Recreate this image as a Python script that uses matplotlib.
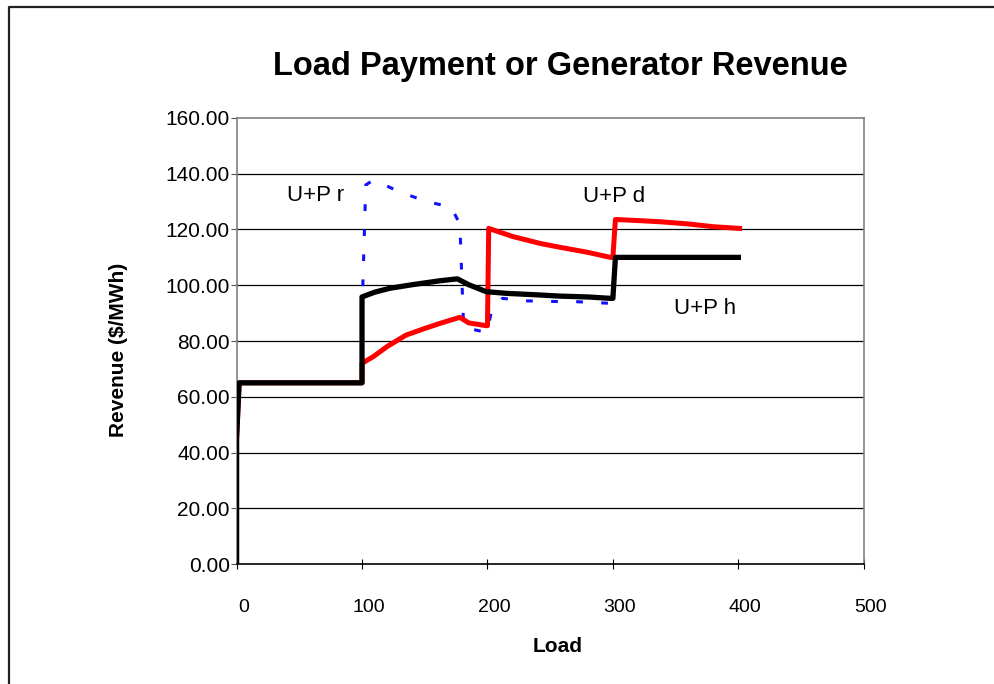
import numpy as np
import matplotlib
matplotlib.use("Agg")
import matplotlib.pyplot as plt
import matplotlib.transforms as mtransforms

plt.rcParams['font.family'] = ['Liberation Sans', 'DejaVu Sans']

# U+P h (black)
h_x = [0, 0, 2, 2, 100, 100, 110, 122, 140, 162, 176, 185, 199, 215, 242, 258, 280, 298, 300, 302, 400]
h_y = [0, 45, 65, 65, 65, 95.8, 97.5, 98.9, 100.2, 101.6, 102.3, 100.2, 97.7, 97.1, 96.5, 96.1, 95.8, 95.3, 95.3, 110, 110]

# U+P d (red)
d_x = [0, 0, 2, 100, 100, 109, 120, 135, 150, 162, 178, 185, 199, 200, 201, 220, 242, 258, 280, 298, 300, 302, 320, 337, 360, 380, 401]
d_y = [0, 45, 65, 65, 72, 74.4, 78, 82.1, 84.5, 86.3, 88.5, 86.5, 85.5, 85.5, 120.4, 117.5, 115, 113.6, 111.8, 110, 110, 123.6, 123.2, 122.8, 122, 121, 120.4]

# U+P r (blue dotted)
r_x = [0, 0, 2, 100, 100, 103, 109, 114, 130, 151, 171, 178, 181, 190, 197, 200, 203, 212, 231, 250, 271, 290, 298, 300, 302, 400]
r_y = [0, 38, 65, 65, 90, 136, 137.7, 136.8, 133.5, 130.1, 128, 122, 85, 84, 83.3, 83.3, 90.5, 95.3, 94.4, 94.2, 94.1, 93.7, 93.5, 100, 110, 110]

yticks = np.arange(0, 161, 20)
xticks = [0, 100, 200, 300, 400, 500]

fig = plt.figure(figsize=(9.94, 6.84), dpi=100)
ax = fig.add_axes([0.238, 0.1754, 0.631, 0.6521])

# outer chart frame (left and top edges visible)
fig.add_artist(plt.Line2D([9/994, 9/994, 1.0], [0.0, 1 - 7/684, 1 - 7/684],
                          transform=fig.transFigure, color='#222222', lw=1.6))

for y in yticks[1:-1]:
    ax.axhline(y, color='black', lw=0.9, zorder=1)

ax.plot(r_x, r_y, color='#1010ff', lw=2.2, linestyle=(0, (2.2, 6.0)), zorder=2)
ax.plot(d_x, d_y, color='#ff0000', lw=3.6, zorder=3, solid_joinstyle='round')
ax.plot(h_x, h_y, color='black', lw=3.8, zorder=4, solid_joinstyle='round')

ax.text(63, 132.1, 'U+P r', fontsize=16, ha='center', va='center')
ax.text(300.7, 131.8, 'U+P d', fontsize=16, ha='center', va='center')
ax.text(373.6, 91.7, 'U+P h', fontsize=16, ha='center', va='center')

ax.set_xlim(0, 500)
ax.set_ylim(0, 160)
ax.set_xticks(xticks)
ax.set_yticks(yticks)
ax.set_yticklabels(['%.2f' % v for v in yticks])
ax.tick_params(axis='y', direction='out', length=4, width=0.8, pad=1, labelsize=15, color='#555555')
ax.tick_params(axis='x', direction='inout', length=7, width=0.8, pad=22, labelsize=14)

shift = mtransforms.ScaledTranslation(7/100, 0, fig.dpi_scale_trans)
for lab in ax.get_xticklabels():
    lab.set_transform(lab.get_transform() + shift)

for side in ['top', 'right', 'left']:
    ax.spines[side].set_color('#808080')
    ax.spines[side].set_linewidth(1.2)
ax.spines['bottom'].set_color('black')
ax.spines['bottom'].set_linewidth(1.2)

fig.text(560/994, 1 - 66/684, 'Load Payment or Generator Revenue', fontsize=23.5,
         fontweight='bold', ha='center', va='center')
fig.text(558/994, 1 - 647/684, 'Load', fontsize=15, fontweight='bold', ha='center', va='center')
fig.text(118/994, 1 - 350/684, 'Revenue ($/MWh)', fontsize=15, fontweight='bold',
         ha='center', va='center', rotation=90)

fig.savefig('out.png', dpi=100)
